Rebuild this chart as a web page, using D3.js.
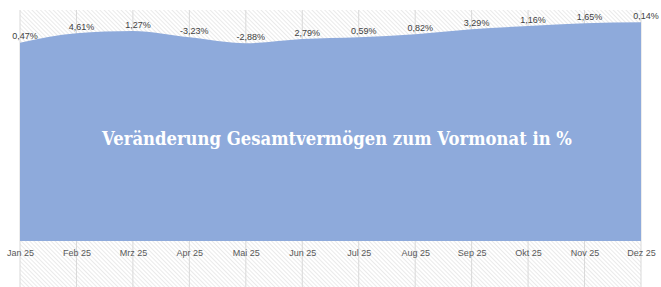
<!DOCTYPE html>
<html>
<head>
<meta charset="utf-8">
<script src="https://cdn.jsdelivr.net/npm/d3@7"></script>
<style>
  body { margin: 0; background: #fff; }
</style>
</head>
<body>
<div id="chart"></div>
<script>
const months = ["Jan 25", "Feb 25", "Mrz 25", "Apr 25", "Mai 25", "Jun 25",
                "Jul 25", "Aug 25", "Sep 25", "Okt 25", "Nov 25", "Dez 25"];
// total wealth (area height)
const wealth = [103.0, 107.9, 109.1, 105.8, 102.7, 104.9,
                105.8, 107.4, 110.0, 111.7, 113.1, 113.6];
// change vs previous month (labels)
const changeLabels = ["0,47%", "4,61%", "1,27%", "-3,23%", "-2,88%", "2,79%",
                      "0,59%", "0,82%", "3,29%", "1,16%", "1,65%", "0,14%"];
const title = "Veränderung Gesamtvermögen zum Vormonat in %";

let svgW = 661;
let svgH = 287;

let svg = d3.select("#chart").append("svg")
  .attr("width", svgW)
  .attr("height", svgH);

// hatched plot background
let defs = svg.append("defs");
let pat = defs.append("pattern")
  .attr("id", "hatch")
  .attr("patternUnits", "userSpaceOnUse")
  .attr("width", 3)
  .attr("height", 3)
  .attr("patternTransform", "rotate(-45)");
pat.append("rect").attr("width", 3).attr("height", 3).attr("fill", "#ffffff");
pat.append("line")
  .attr("x1", 0).attr("y1", 0).attr("x2", 0).attr("y2", 3)
  .style("stroke", "#dcdcdc")
  .style("stroke-width", 1.2);

const x = d3.scalePoint().domain(months).range([20, 641]);
const y = d3.scaleLinear().domain([0, 120]).range([241, 10]);

svg.append("rect")
  .attr("x", 20).attr("y", 10)
  .attr("width", 621).attr("height", svgH - 10)
  .attr("fill", "url(#hatch)");

// vertical gridlines
svg.selectAll(".grid")
  .data(months)
  .enter()
  .append("line")
  .attr("class", "grid")
  .attr("x1", d => x(d)).attr("x2", d => x(d))
  .attr("y1", 10).attr("y2", svgH)
  .style("stroke", "#d9d9d9")
  .style("stroke-width", 1);

const area = d3.area()
  .x((d, i) => x(months[i]))
  .y0(y(0))
  .y1(d => y(d))
  .curve(d3.curveMonotoneX);

svg.append("path")
  .datum(wealth)
  .attr("d", area)
  .attr("fill", "#8eaadb");

// data labels
svg.selectAll(".lbl")
  .data(wealth)
  .enter()
  .append("text")
  .attr("class", "lbl")
  .attr("x", (d, i) => x(months[i]) + 5)
  .attr("y", d => y(d) - 6.5)
  .attr("dy", "0.35em")
  .attr("text-anchor", "middle")
  .style("font-family", "'Liberation Sans', Arial, sans-serif")
  .style("font-size", "9px")
  .style("fill", "#404040")
  .text((d, i) => changeLabels[i]);

// x axis labels
const xAxis = d3.axisBottom(x).tickSize(0).tickPadding(0);
let gx = svg.append("g")
  .attr("transform", "translate(0,253)")
  .call(xAxis);
gx.select(".domain").remove();
gx.selectAll("text")
  .attr("dy", "0.35em")
  .attr("y", 0)
  .style("font-family", "'Liberation Sans', Arial, sans-serif")
  .style("font-size", "9px")
  .style("fill", "#595959");

// title inside the area
svg.append("text")
  .attr("x", 337)
  .attr("y", 145)
  .attr("text-anchor", "middle")
  .attr("textLength", 470)
  .attr("lengthAdjust", "spacingAndGlyphs")
  .style("font-family", "'DejaVu Serif', 'Liberation Serif', serif")
  .style("font-weight", "bold")
  .style("font-size", "18px")
  .style("fill", "#ffffff")
  .text(title);
</script>
</body>
</html>
